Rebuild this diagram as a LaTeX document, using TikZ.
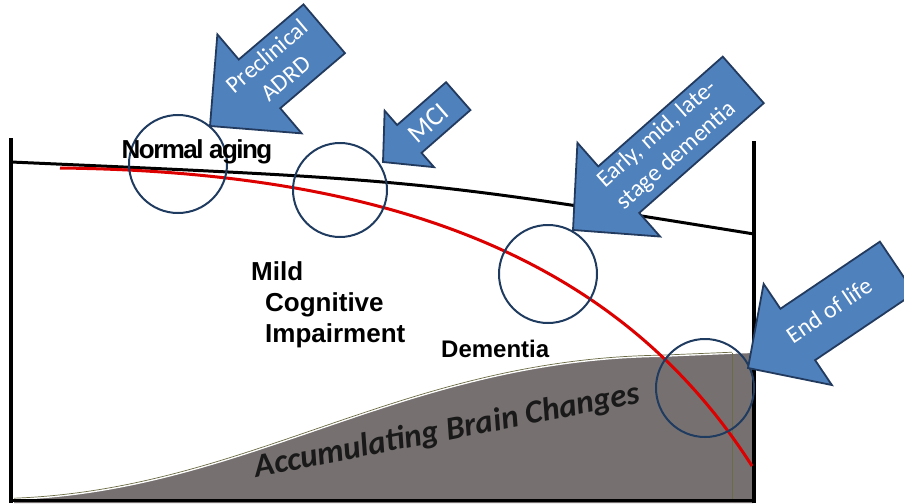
\documentclass[tikz,border=0pt]{standalone}
\usepackage{fontspec}
\setmainfont{Liberation Sans}
\newfontfamily\calibri{Carlito}
\newfontfamily\tightfont[LetterSpace=-6]{Liberation Sans}
\usetikzlibrary{calc}
\definecolor{arrowblue}{HTML}{4F81BD}
\definecolor{arrowline}{HTML}{223A5E}
\definecolor{ringblue}{HTML}{1F3B60}
\definecolor{agingred}{HTML}{DC0000}
\definecolor{braingrey}{RGB}{118,113,112}
\definecolor{brainedge}{HTML}{6B6B45}
\tikzstyle{axisline} = [line width=3.5pt, black]
\tikzstyle{agingline} = [line width=3pt, agingred]
\tikzstyle{ringnode} = [draw=ringblue, line width=2pt, circle, minimum size=98pt, inner sep=0pt]
\tikzstyle{stagelabel} = [font=\bfseries\fontsize{26}{31}\selectfont, inner sep=0pt]
\tikzstyle{arrowbody} = [fill=arrowblue, draw=arrowline, line width=1.8pt, line join=miter]
\tikzstyle{arrowtext} = [text=white, align=center, inner sep=0pt, font=\calibri\fontsize{24}{29}\selectfont]
\tikzstyle{braintext} = [text=black!90, inner sep=0pt, font=\calibri\bfseries\itshape\fontsize{33}{40}\selectfont]
% block arrow: tip, angle, length, shaft width, head width, head length
\newcommand{\blockarrow}[6]{%
  \draw[arrowbody, shift={(#1)}, rotate=#2] (0,0) -- (#6,#5/2) -- (#6,#4/2) -- (#3,#4/2)
    -- (#3,-#4/2) -- (#6,-#4/2) -- (#6,-#5/2) -- cycle;}

\begin{document}
\begin{tikzpicture}[x=1pt, y=-1pt]
\useasboundingbox (0,0) rectangle (904,503);
\clip (0,0) rectangle (904,503);

% accumulating brain changes
\fill[braingrey] (14,499) .. controls (250,490) and (400,360) .. (660,356) -- (753,352) -- (753,503) -- (14,503) -- cycle;
\draw[white, line width=2pt] (14,499) .. controls (250,490) and (400,360) .. (660,356) -- (753,352);
\draw[brainedge, line width=0.7pt, yshift=0.8pt] (14,499) .. controls (250,490) and (400,360) .. (660,356) -- (732,353);
\draw[brainedge, line width=0.7pt] (732,353) -- (732,500);
\node[braintext, rotate=11, anchor=base] (brainchanges) at (449,440) {Accumulating Brain Changes};

% frame and normal aging line
\draw[axisline] (11,138) -- (11,503);
\draw[axisline] (754,141) -- (754,503);
\draw[axisline] (11,500.5) -- (754,500.5);
\draw[line width=3pt] (11,162) .. controls (419,180) .. (754,234);

% decline curve
\draw[agingline] (60,168) .. controls (420,172) and (630,275) .. (752,466);

% stages
\node[ringnode] (normalring) at (178,164) {};
\node[ringnode, minimum size=94pt] (mciring) at (340,190) {};
\node[ringnode] (dementiaring) at (548,274) {};
\node[ringnode] (endring) at (705,388) {};

\node[stagelabel, font=\tightfont\bfseries\fontsize{26}{31}\selectfont, anchor=base] (normal) at (197,158) {Normal aging};
\node[stagelabel, anchor=base west] (mild) at (251,280) {Mild};
\node[stagelabel, anchor=base west] (cognitive) at (265,311) {Cognitive};
\node[stagelabel, anchor=base west] (impairment) at (265,342) {Impairment};
\node[stagelabel, font=\bfseries\fontsize{24}{29}\selectfont, anchor=base west] (dementia) at (441,357) {Dementia};

% arrows
\blockarrow{210,126}{40.4}{150}{64}{130}{65}
\blockarrow{383,162}{41.2}{100}{37}{75}{35}
\blockarrow{573,230}{41.4}{227}{62}{125}{61}
\blockarrow{748,368}{34}{180}{62}{122}{60}

\node[arrowtext, rotate=40.4] (preclinical) at (276,67) {Preclinical\\ADRD};
\node[arrowtext, rotate=41.2, font=\calibri\fontsize{27}{32}\selectfont] (mci) at (428,123) {MCI};
\node[arrowtext, rotate=41.4] (stages) at (667,145) {Early, mid, late-\\stage dementia};
\node[arrowtext, rotate=34] (endoflife) at (829,310) {End of life};
\end{tikzpicture}
\end{document}
